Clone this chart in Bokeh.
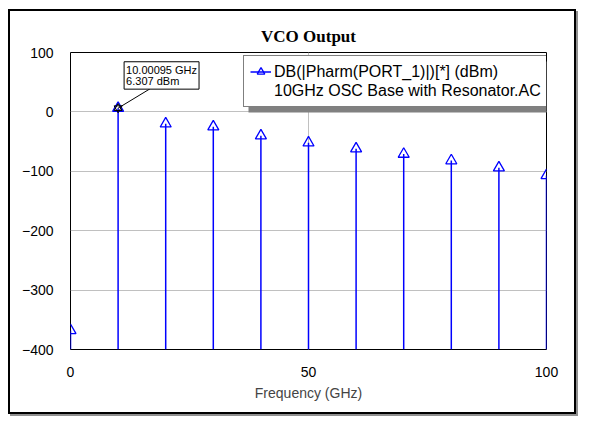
from bokeh.plotting import figure
from bokeh.models import (ColumnDataSource, Range1d, FixedTicker, Legend, LegendItem,
                          BoxAnnotation, Label, Arrow)
from bokeh.embed import file_html
from bokeh.resources import INLINE

# ---- data ----
freq_ghz = [0, 10, 20, 30, 40, 50, 60, 70, 80, 90, 100]
power_dbm = [-368, 6.307, -20, -25, -40, -52, -62, -71, -82, -94, -107]
x_ticks = [0, 50, 100]
y_ticks = [100, 0, -100, -200, -300, -400]
marker_freq = 10.00095
marker_power = 6.307
title_text = "VCO Output"
x_label = "Frequency (GHz)"
legend_line1 = "DB(|Pharm(PORT_1)|)[*] (dBm)"
legend_line2 = "10GHz OSC Base with Resonator.AC"
y_floor = -400

BLUE = "#0000FF"
FONT = "Liberation Sans"

src = ColumnDataSource(dict(x=freq_ghz, y=power_dbm, y0=[y_floor] * len(freq_ghz)))

p = figure(width=568, height=405, output_backend="svg", toolbar_location=None,
           x_range=Range1d(0, 100), y_range=Range1d(-400, 100),
           min_border_left=60, min_border_right=32, min_border_top=41, min_border_bottom=67)
p.styles = {"border": "2px solid black", "box-shadow": "2px 2px 0 0 #909090",
            "margin-left": "8px", "margin-top": "9px"}
p.background_fill_color = "white"
p.border_fill_color = "white"
p.outline_line_color = "black"
p.outline_line_width = 1

# title
p.title.text = title_text
p.title.align = "center"
p.title.text_font = "Liberation Serif"
p.title.text_font_size = "17px"
p.title.text_font_style = "bold"
p.title.text_color = "black"
p.title.standoff = 13

# axes
for ax in (p.xaxis[0], p.yaxis[0]):
    ax.axis_line_color = None
    ax.major_tick_line_color = None
    ax.minor_tick_line_color = None
    ax.major_tick_out = 0
    ax.major_tick_in = 0
    ax.major_label_text_font = FONT
    ax.major_label_text_font_size = "14px"
    ax.major_label_text_color = "black"
p.xaxis.ticker = FixedTicker(ticks=x_ticks)
p.yaxis.ticker = FixedTicker(ticks=y_ticks)
p.xaxis.major_label_standoff = 17
p.yaxis.major_label_standoff = 17
p.xaxis.axis_label = x_label
p.xaxis.axis_label_text_font = FONT
p.xaxis.axis_label_text_font_size = "14px"
p.xaxis.axis_label_text_font_style = "normal"
p.xaxis.axis_label_standoff = 5

p.xgrid.ticker = FixedTicker(ticks=x_ticks)
p.ygrid.ticker = FixedTicker(ticks=y_ticks)
p.grid.grid_line_color = "#C0C0C0"
p.grid.grid_line_width = 1

# stems and markers
stems = p.segment(x0="x", y0="y0", x1="x", y1="y", source=src, line_color=BLUE, line_width=1.5)
marks = p.scatter(x="x", y="y", source=src, marker="triangle", size=11,
                  fill_color=None, line_color=BLUE, line_width=1.3)
# highlighted marker point
p.scatter(x=[marker_freq], y=[marker_power], marker="triangle", size=8,
          fill_color=None, line_color="black", line_width=1)
p.scatter(x=[marker_freq], y=[marker_power], marker="inverted_triangle", size=8,
          fill_color=None, line_color="black", line_width=1)

# marker readout box
readout = f"{marker_freq:.5f} GHz\n{marker_power} dBm"
p.add_layout(Arrow(end=None, x_start=marker_freq, y_start=marker_power,
                   x_end=140, y_end=77, end_units="canvas",
                   line_color="black", line_width=1))
p.add_layout(Label(x=marker_freq, y=marker_power, x_offset=8, y_offset=17, text=readout,
                   text_font=FONT, text_font_size="11px", text_alpha=0,
                   text_align="left", text_baseline="bottom", text_line_height=0.95,
                   background_fill_color="#808080", padding=2))
p.add_layout(Label(x=marker_freq, y=marker_power, x_offset=6, y_offset=19, text=readout,
                   text_font=FONT, text_font_size="11px", text_color="black",
                   text_align="left", text_baseline="bottom", text_line_height=0.95,
                   background_fill_color="white", border_line_color="black",
                   border_line_width=1, padding=2))

# legend shadow
p.add_layout(BoxAnnotation(left=236, right=539, top=48, bottom=99, left_units="canvas",
                           right_units="canvas", top_units="canvas", bottom_units="canvas",
                           fill_color="#808080", fill_alpha=1, line_color=None))

dummy = p.line(x=[], y=[], line_alpha=0)
legend = Legend(items=[LegendItem(label=legend_line1, renderers=[stems, marks]),
                       LegendItem(label=legend_line2, renderers=[dummy])],
                location=(173, 242), orientation="vertical",
                label_text_font=FONT, label_text_font_size="16px", label_text_color="black",
                label_height=19, glyph_height=19, glyph_width=21, label_standoff=3,
                spacing=0, padding=6, margin=0,
                border_line_color="black", border_line_width=1,
                background_fill_color="white", background_fill_alpha=1)
p.add_layout(legend)

open("out.html", "w").write(file_html(p, INLINE))
